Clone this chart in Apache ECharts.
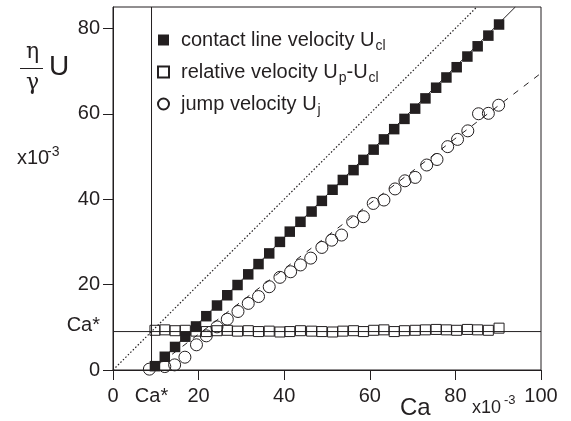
<!DOCTYPE html>
<html>
<head>
<meta charset="utf-8">
<script src="https://cdn.jsdelivr.net/npm/echarts@6/dist/echarts.min.js"></script>
<style>
html,body{margin:0;padding:0;background:#fff;}
#chart{width:571px;height:421px;}
</style>
</head>
<body>
<div id="chart"></div>
<script>
// ---- data (units of 1e-3) ----
var caStar = 9;
var xTicks = [0, 20, 40, 60, 80, 100];
var yTicks = [0, 20, 40, 60, 80];

var caSquares = [9.8, 12.1, 14.5, 16.9, 19.4, 21.8, 24.3, 26.7, 29.1, 31.6, 34.0, 36.5, 39.0, 41.3, 43.8, 46.4, 48.8, 51.3, 53.7, 56.2, 58.5, 60.9, 63.3, 65.7, 68.1, 70.6, 73.0, 75.5, 77.9, 80.3, 82.8, 85.2, 87.7, 90.2];
var uContact = [0.9, 3.1, 5.4, 7.8, 10.2, 12.6, 15.1, 17.5, 19.9, 22.4, 24.8, 27.3, 30.0, 32.4, 34.7, 37.1, 39.6, 42.2, 44.5, 46.8, 49.2, 51.6, 54.0, 56.4, 58.8, 61.2, 63.6, 66.1, 68.5, 70.9, 73.4, 75.8, 78.3, 80.9];
var uRelative = [9.3, 9.4, 9.2, 9.3, 9.1, 9.0, 9.2, 9.3, 9.1, 9.2, 9.0, 9.1, 8.9, 9.0, 9.2, 9.1, 9.0, 8.9, 9.1, 9.2, 9.0, 9.3, 9.4, 9.0, 9.2, 9.3, 9.4, 9.5, 9.4, 9.3, 9.5, 9.4, 9.3, 9.8];

var caCircles = [8.5, 12.1, 14.4, 16.8, 19.5, 21.8, 24.3, 26.7, 29.2, 31.6, 34.0, 36.5, 39.0, 41.5, 43.8, 46.2, 48.8, 51.1, 53.4, 56.0, 58.5, 60.8, 63.3, 65.9, 68.2, 70.6, 73.3, 75.7, 78.2, 80.5, 82.9, 85.4, 87.7, 90.1];
var uJump = [0.2, 0.8, 1.2, 3.0, 5.9, 8.0, 10.1, 11.9, 13.7, 15.6, 17.2, 19.5, 21.7, 23.0, 24.6, 26.2, 28.7, 30.4, 31.6, 34.7, 35.9, 39.0, 39.8, 42.4, 44.3, 45.1, 48.0, 49.3, 52.3, 54.0, 56.0, 60.0, 60.1, 62.0];

var diagonalLine = [[0, 0], [85, 85]];
var contactFit = [[9, 0], [94, 85]];
var jumpFit = [[9, 0], [100, 69.5]];
var caStarH = [[0, caStar], [100, caStar]];
var caStarV = [[caStar, 0], [caStar, 85]];

var C = '#231f20';
var FONT = "'Liberation Sans', Arial, Helvetica, sans-serif";

function zip(a, b) { return a.map(function (v, i) { return [v, b[i]]; }); }
function lineSeries(data, type, w, z) {
  return {
    type: 'line', data: data, showSymbol: false, silent: true, z: z || 2,
    lineStyle: { color: C, width: w || 1, type: type },
    legendHoverLink: false
  };
}

var chart = echarts.init(document.getElementById('chart'), null, { renderer: 'canvas' });
chart.setOption({
  animation: false,
  backgroundColor: '#fff',
  grid: { left: 113, top: 7, right: 30, bottom: 51, show: true, borderColor: C, borderWidth: 1, backgroundColor: 'transparent', containLabel: false },
  xAxis: {
    type: 'value', min: 0, max: 100, interval: 20,
    axisLine: { show: true, onZero: false, lineStyle: { color: C, width: 1 } },
    axisTick: { show: true, length: 10, lineStyle: { color: C }, customValues: xTicks },
    axisLabel: {
      color: C, fontSize: 20, fontFamily: FONT, margin: 16, customValues: [0, caStar, 20, 40, 60, 80, 100],
      formatter: function (v) { return v === caStar ? 'Ca*' : String(v); }
    },
    splitLine: { show: false }
  },
  yAxis: {
    type: 'value', min: 0, max: 85, interval: 20,
    axisLine: { show: true, onZero: false, lineStyle: { color: C, width: 1 } },
    axisTick: { show: true, length: 10, lineStyle: { color: C }, customValues: yTicks },
    axisLabel: {
      color: C, fontSize: 20, fontFamily: FONT, margin: 13, customValues: [0, caStar, 20, 40, 60, 80],
      formatter: function (v) { return v === caStar ? '{ca|Ca*}' : String(v); },
      rich: { ca: { fontSize: 20, fontFamily: FONT, color: C, padding: [0, 0, 12, 0] } }
    },
    splitLine: { show: false }
  },
  legend: {
    orient: 'vertical', left: 152, top: 25, itemGap: 9, itemWidth: 11, itemHeight: 11,
    selectedMode: false,
    data: ['contact', 'relative', 'jump'],
    formatter: function (name) {
      if (name === 'contact') return '{a|contact line velocity U}{s|cl}';
      if (name === 'relative') return '{a|relative velocity U}{s|p}{b|-U}{s|cl}';
      return '{a|jump velocity U}{s|j}';
    },
    textStyle: {
      color: C, fontFamily: FONT, fontSize: 20,
      rich: {
        a: { fontSize: 20, fontFamily: FONT, color: C, padding: [0, 0, 0, 7] },
        b: { fontSize: 20, fontFamily: FONT, color: C },
        s: { fontSize: 14, fontFamily: FONT, color: C, padding: [12, 0, 0, 1] }
      }
    }
  },
  series: [
    lineSeries(diagonalLine, [1.5, 2], 1.2),
    lineSeries(contactFit, 'solid'),
    lineSeries(jumpFit, [6, 7]),
    lineSeries(caStarH, 'solid'),
    lineSeries(caStarV, 'solid'),
    {
      name: 'contact', type: 'scatter', data: zip(caSquares, uContact), symbol: 'rect', symbolSize: 10.5, z: 4,
      itemStyle: { color: C, opacity: 1 }
    },
    {
      name: 'relative', type: 'scatter', data: zip(caSquares, uRelative), symbol: 'rect', symbolSize: 10, z: 4,
      itemStyle: { color: 'rgba(255,255,255,0)', borderColor: C, borderWidth: 1, opacity: 1 }
    },
    {
      name: 'jump', type: 'scatter', data: zip(caCircles, uJump), symbol: 'circle', symbolSize: 12, z: 4,
      itemStyle: { color: 'rgba(255,255,255,0)', borderColor: C, borderWidth: 1, opacity: 1 }
    }
  ],
  graphic: [
    { type: 'text', left: 26, top: 41, style: { text: 'η', font: "22px 'DejaVu Serif', serif", fill: C } },
    { type: 'rect', shape: { x: 20, y: 68, width: 23, height: 1 }, style: { fill: C } },
    { type: 'text', left: 26, top: 72, style: { text: 'γ', font: "22px 'DejaVu Serif', serif", fill: C } },
    { type: 'text', left: 49, top: 53, style: { text: 'U', font: "28px " + FONT, fill: C } },
    { type: 'text', left: 17, top: 148, style: { text: 'x10', font: "20px " + FONT, fill: C } },
    { type: 'text', left: 47, top: 145, style: { text: '-3', font: "14px " + FONT, fill: C } },
    { type: 'text', left: 400, top: 396, style: { text: 'Ca', font: "24px " + FONT, fill: C } },
    { type: 'text', left: 472, top: 399, style: { text: 'x10', font: "18px " + FONT, fill: C } },
    { type: 'text', left: 504, top: 394, style: { text: '-3', font: "13px " + FONT, fill: C } }
  ]
});
</script>
</body>
</html>
